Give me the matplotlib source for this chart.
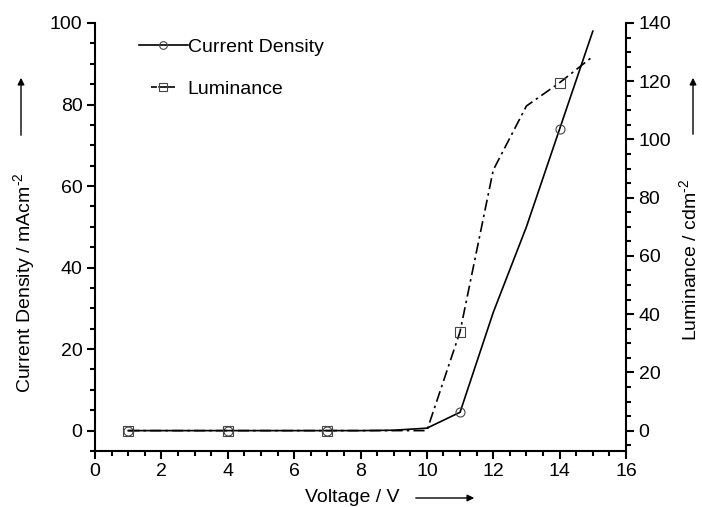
import matplotlib
matplotlib.use("Agg")
import matplotlib.pyplot as plt
from matplotlib.lines import Line2D
from matplotlib.ticker import MultipleLocator

plt.rcParams['font.family'] = ['Liberation Sans', 'DejaVu Sans']
plt.rcParams['mathtext.fontset'] = 'custom'
plt.rcParams['mathtext.rm'] = 'Liberation Sans'
plt.rcParams['lines.scale_dashes'] = False

# Data
cd_voltage = [1, 4, 7, 8, 9, 10, 11, 12, 13, 14, 15]
current_density = [0, 0, 0, 0, 0.1, 0.6, 4.5, 29, 50, 74, 98]
cd_marked = [0, 1, 2, 6, 9]

lum_voltage = [1, 4, 7, 10, 11, 12, 13, 14, 15]
luminance = [0, 0, 0, 0, 34, 89.5, 111.5, 119.5, 128.5]
lum_marked = [0, 1, 2, 4, 7]

fig = plt.figure(figsize=(7.02, 5.07), dpi=100)
ax = fig.add_axes([95 / 702, 56 / 507, 531 / 702, 428 / 507])
ax2 = ax.twinx()

lw = 1.2
dash = (8, 3, 1.8, 3)

ax.plot(cd_voltage, current_density, color='black', lw=lw, zorder=3)
ax.plot([cd_voltage[i] for i in cd_marked], [current_density[i] for i in cd_marked],
        ls='none', marker='o', ms=6.5, mfc='none', mec='#444444', mew=0.8, zorder=4)

ax2.plot(lum_voltage, luminance, color='black', lw=lw, dashes=dash, zorder=3)
ax2.plot([lum_voltage[i] for i in lum_marked], [luminance[i] for i in lum_marked],
         ls='none', marker='s', ms=6.5, mfc='none', mec='#444444', mew=0.8, zorder=4)

ax.set_xlim(0, 16)
ax.set_ylim(-5, 100)
ax2.set_ylim(-7, 140)

ax.xaxis.set_major_locator(MultipleLocator(2))
ax.xaxis.set_minor_locator(MultipleLocator(0.5))
ax.yaxis.set_major_locator(MultipleLocator(20))
ax.yaxis.set_minor_locator(MultipleLocator(5))
ax2.yaxis.set_major_locator(MultipleLocator(20))
ax2.yaxis.set_minor_locator(MultipleLocator(5))

for a in (ax, ax2):
    a.spines['top'].set_visible(False)
    for s in a.spines.values():
        s.set_linewidth(1.5)
    a.tick_params(which='major', length=6, width=1.5, labelsize=14, direction='out', pad=3)
    a.tick_params(which='minor', length=3.5, width=1.5, direction='out')

ax.spines['right'].set_visible(False)
ax2.spines['left'].set_visible(False)
ax2.spines['bottom'].set_visible(False)

# axis titles with arrows, placed like the reference
fig.text(25 / 702, 1 - 283 / 507, r'Current Density / mAcm$^{\text{-2}}$', rotation=90,
         ha='center', va='center', fontsize=14)
fig.text(690 / 702, 1 - 260 / 507, r'Luminance / cdm$^{\text{-2}}$', rotation=90,
         ha='center', va='center', fontsize=14)
fig.text(352 / 702, 1 - 497 / 507, 'Voltage / V', ha='center', va='center', fontsize=14)

arrow = dict(arrowstyle='-|>', color='black', lw=1.0, mutation_scale=10)
ax.annotate('', xy=(21 / 702, 1 - 75 / 507), xytext=(21 / 702, 1 - 138 / 507),
            xycoords='figure fraction', arrowprops=arrow)
ax.annotate('', xy=(693 / 702, 1 - 75 / 507), xytext=(693 / 702, 1 - 137 / 507),
            xycoords='figure fraction', arrowprops=arrow)
ax.annotate('', xy=(477 / 702, 1 - 498 / 507), xytext=(413 / 702, 1 - 498 / 507),
            xycoords='figure fraction', arrowprops=arrow)

# legend handles: the luminance one starts with a short dash, as in the reference
handles = [
    Line2D([], [], color='black', lw=lw, marker='o', ms=5.5, mfc='none', mec='#444444', mew=0.8),
    Line2D([], [], color='black', lw=lw, dashes=(0, 8.6, 4.3, 1, 12, 20),
           marker='s', ms=5.5, mfc='none', mec='#444444', mew=0.8),
]
ax.legend(handles, ['Current Density', 'Luminance'], loc='upper left',
          bbox_to_anchor=(0.05, 1.005), frameon=False, fontsize=14,
          handlelength=2.5, handletextpad=0.0, labelspacing=1.25, numpoints=1)

fig.savefig('out.png', dpi=100)
